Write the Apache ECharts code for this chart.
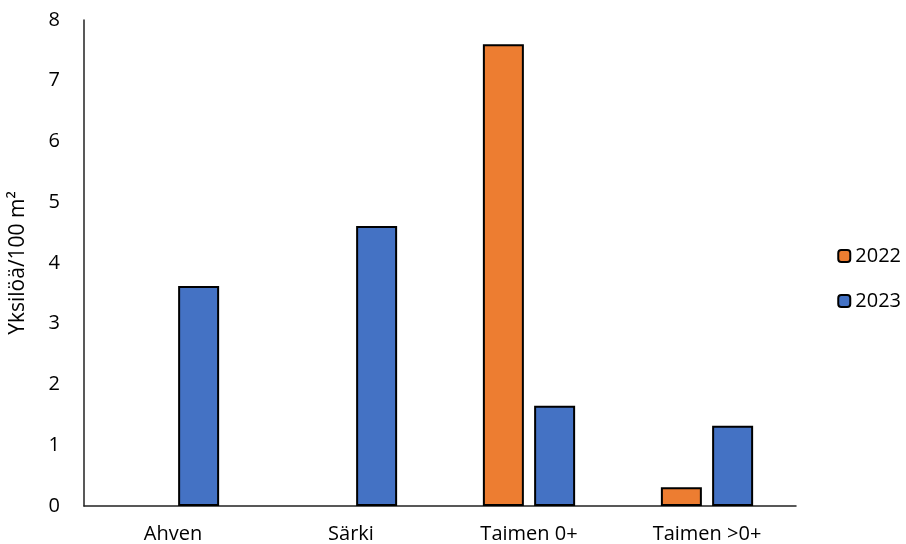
<!DOCTYPE html>
<html><head><meta charset="utf-8">
<script src="https://cdn.jsdelivr.net/npm/echarts@6/dist/echarts.min.js"></script>
<style>html,body{margin:0;padding:0;background:#fff}#c{width:906px;height:544px}</style>
</head><body><div id="c"></div>
<script>
const categories = ['Ahven', 'Särki', 'Taimen 0+', 'Taimen >0+'];
const values2022 = [null, null, 7.6, 0.31];
const values2023 = [3.62, 4.61, 1.65, 1.32];
const seriesNames = ['2022', '2023'];
const chart = echarts.init(document.getElementById('c'));
const font = '"Open Sans", Calibri, sans-serif';
chart.setOption({
  animation: false,
  textStyle: {fontFamily: font},
  grid: {left: 80, right: 110, top: 20, bottom: 37, containLabel: false},
  legend: {
    orient: 'vertical', right: 0, top: 241, itemGap: 25,
    itemWidth: 12, itemHeight: 12,
    textStyle: {fontSize: 20, color: '#000', fontFamily: font},
    data: seriesNames
  },
  xAxis: {
    type: 'category', data: categories,
    axisLine: {lineStyle: {color: '#222', width: 1.5}},
    axisTick: {show: false},
    axisLabel: {color: '#000', fontSize: 20, margin: 18, fontFamily: font}
  },
  yAxis: {
    type: 'value', min: 0, max: 8, interval: 1,
    name: 'Yksilöä/100 m²', nameLocation: 'middle', nameGap: 55, nameRotate: 90,
    nameTextStyle: {color: '#000', fontSize: 21, fontFamily: font},
    axisLine: {show: true, lineStyle: {color: '#222', width: 1.5}},
    axisTick: {show: false},
    splitLine: {show: false},
    axisLabel: {color: '#000', fontSize: 20, margin: 24, fontFamily: font}
  },
  series: [
    {name: seriesNames[0], type: 'bar', data: values2022, barWidth: 41, barGap: '25%',
     itemStyle: {color: '#ED7D31', borderColor: '#000', borderWidth: 2}},
    {name: seriesNames[1], type: 'bar', data: values2023, barWidth: 41, barGap: '25%',
     itemStyle: {color: '#4472C4', borderColor: '#000', borderWidth: 2}}
  ]
});
</script></body></html>
